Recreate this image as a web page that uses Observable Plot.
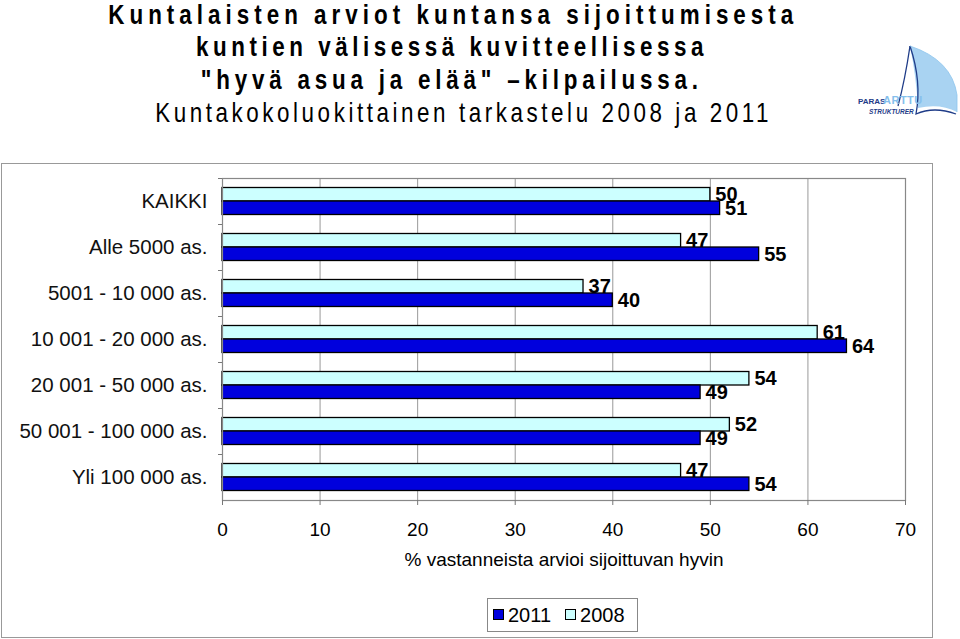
<!DOCTYPE html>
<html><head><meta charset="utf-8">
<script src="https://cdn.jsdelivr.net/npm/d3@7"></script>
<script src="https://cdn.jsdelivr.net/npm/@observablehq/plot@0.6"></script>
<style>
body{margin:0;background:#fff;}
#root{position:relative;width:960px;height:639px;overflow:hidden;font-family:"Liberation Sans",Arial,sans-serif;background:#fff;}
.t{position:absolute;white-space:nowrap;color:#000;font-family:"Liberation Sans Narrow","Liberation Sans",Arial,sans-serif;font-size:28px;line-height:28px;transform-origin:50% 50%;}
.b{font-weight:bold;}
#box{position:absolute;left:1px;top:163px;width:930px;height:473px;border:1px solid #999;}
#chart{position:absolute;left:0;top:163px;}
#legend{position:absolute;left:487px;top:598px;width:151px;height:34px;border:1px solid #888;box-sizing:border-box;font-size:20px;line-height:32px;color:#000;white-space:nowrap;}
#legend .sw{display:inline-block;width:9px;height:9px;border:1px solid #000;vertical-align:middle;position:relative;top:-2px;margin-right:4px;}
#logo{position:absolute;left:850px;top:40px;}
</style></head>
<body><div id="root">
<div id="titles"></div>
<svg id="logo" width="110" height="90" viewBox="0 0 110 90">
  <path d="M60,6 Q102,20 107,55 L107,72 Q90,63 68,68 Q66,35 60,6 Z" fill="#a9d3f2"/>
  <path d="M60,6 Q55,40 48,66" fill="none" stroke="#1f3c88" stroke-width="1.3"/>
  <path d="M60,6 Q72,42 66,74 Q84,66 106,74" fill="none" stroke="#1f3c88" stroke-width="1.3"/>
  <path d="M60,6 Q102,20 107,55 L107,72" fill="none" stroke="#8ec5ee" stroke-width="0.8"/>
  <text x="8" y="64" font-family="Liberation Sans" font-weight="bold" font-size="8" fill="#1f3c88">PARAS</text>
  <text x="33" y="64" font-family="Liberation Sans" font-weight="bold" font-size="11" fill="#86c0ec" letter-spacing="0.5">ARTTU</text>
  <text x="19" y="74" font-family="Liberation Sans" font-weight="bold" font-style="italic" font-size="6.5" fill="#1f3c88">STRUKTURER</text>
</svg>
<div id="box"></div>
<div id="chart"></div>
<div id="legend"></div>
</div>
<script>
// ---- data ----
const categories = ["KAIKKI","Alle 5000 as.","5001 - 10 000 as.","10 001 - 20 000 as.","20 001 - 50 000 as.","50 001 - 100 000 as.","Yli 100 000 as."];
const values2008 = [50,47,37,61,54,52,47];
const values2011 = [51,55,40,64,49,49,54];
const xTicks = [0,10,20,30,40,50,60,70];
const seriesNames = ["2011","2008"];
const seriesColors = ["#0000dd","#ccffff"];
const xLabel = "% vastanneista arvioi sijoittuvan hyvin";
const titleLines = [
  "Kuntalaisten arviot kuntansa sijoittumisesta",
  "kuntien välisessä kuvitteellisessa",
  "\"hyvä asua ja elää\" –kilpailussa.",
  "Kuntakokoluokittainen tarkastelu 2008 ja 2011"
];

// ---- titles (narrow look via horizontal squeeze) ----
const squeeze = 0.8;
const tl = [
  {bold:true, top:1, cx:450, w:690},
  {bold:true, top:33, cx:449, w:512},
  {bold:true, top:66, cx:449, w:502},
  {bold:false, top:99, cx:461, w:617}
];
const tdiv = document.getElementById("titles");
titleLines.forEach((s,i)=>{
  const el = document.createElement("div");
  el.className = "t" + (tl[i].bold ? " b" : "");
  el.textContent = s;
  el.style.top = tl[i].top + "px";
  tdiv.appendChild(el);
  const w0 = el.getBoundingClientRect().width;
  const ls = (tl[i].w / squeeze - w0) / s.length;
  el.style.letterSpacing = ls + "px";
  el.style.transform = "scaleX(" + squeeze + ")";
  const w1 = el.offsetWidth;
  el.style.left = (tl[i].cx - w1/2 + ls/2) + "px";
});

// ---- chart ----
const rows2008 = categories.map((c,i)=>({cat:c, value:values2008[i]}));
const rows2011 = categories.map((c,i)=>({cat:c, value:values2011[i]}));
const W = 932, H = 420, mt = 15, mb = 83, ml = 222, mr = 27;
const step = (H - mt - mb) / categories.length;

const chart = Plot.plot({
  width: W, height: H,
  marginTop: mt, marginBottom: mb, marginLeft: ml, marginRight: mr,
  style: {fontFamily: "'Liberation Sans', Arial, sans-serif", background: "transparent", overflow: "visible"},
  x: {domain: [0,70], ticks: xTicks},
  y: {domain: categories, paddingInner: 0, paddingOuter: 0},
  marks: [
    Plot.gridX(xTicks, {stroke: "#999", strokeOpacity: 1, strokeWidth: 1}),
    Plot.barX(rows2008, {x: "value", y: "cat", fill: seriesColors[1], stroke: "#000", strokeWidth: 1.3, insetTop: 9.5, insetBottom: 23}),
    Plot.barX(rows2011, {x: "value", y: "cat", fill: seriesColors[0], stroke: "#000", strokeWidth: 1.3, insetTop: 23, insetBottom: 9.5}),
    Plot.frame({stroke: "#888", strokeWidth: 1.2}),
    Plot.axisX(xTicks, {tickSize: 5, tickPadding: 17, fontSize: 19, fill: "#000", stroke: "#777", label: null}),
    Plot.axisY({tickSize: 0, tickPadding: 15, fontSize: 20.5, fill: "#111", label: null}),
    Plot.axisY({tickSize: 4, tickFormat: () => "", dy: -step/2, stroke: "#777", label: null}),
    Plot.text(rows2008, {x: "value", y: "cat", text: d => String(d.value), dx: 5, dy: -7, textAnchor: "start", fontWeight: "bold", fontSize: 20, fill: "#000"}),
    Plot.text(rows2011, {x: "value", y: "cat", text: d => String(d.value), dx: 5, dy: 7, textAnchor: "start", fontWeight: "bold", fontSize: 20, fill: "#000"}),
    Plot.text([xLabel], {frameAnchor: "bottom", dy: 65, fontSize: 19, fill: "#000"})
  ]
});
document.getElementById("chart").appendChild(chart);

// ---- legend ----
const lg = document.getElementById("legend");
seriesNames.forEach((n,i)=>{
  const sw = document.createElement("span");
  sw.className = "sw";
  sw.style.background = seriesColors[i];
  sw.style.marginLeft = (i === 0 ? 5 : 14) + "px";
  lg.appendChild(sw);
  const tx = document.createElement("span");
  tx.textContent = n;
  lg.appendChild(tx);
});
</script>
</body></html>
